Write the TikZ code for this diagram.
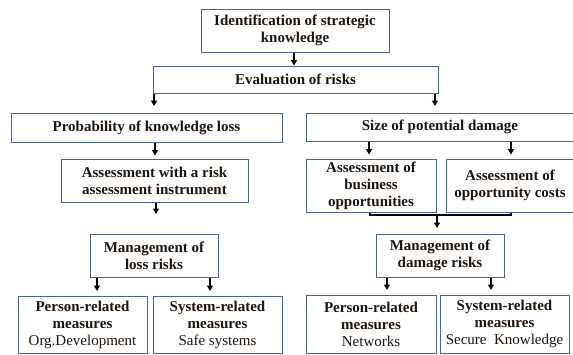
\documentclass[tikz,border=0pt]{standalone}
\usepackage{fontspec}
\setmainfont{Liberation Serif}
\usetikzlibrary{arrows.meta}
\definecolor{boxblue}{RGB}{76,100,146}
\definecolor{txt}{RGB}{30,20,12}
\begin{document}
\begin{tikzpicture}[x=1pt,y=-1pt,
  box/.style={draw=boxblue, line width=1pt, fill=white, inner sep=0pt, align=center,
    text=txt, font=\fontsize{15}{17}\selectfont\bfseries},
  arr/.style={draw=black, line width=1.3pt, -{Triangle[width=6pt,length=5.5pt]}},
  brk/.style={draw=black, line width=1.6pt}]
\useasboundingbox (0,0) rectangle (573,354);
\fill[white] (0,0) rectangle (573,354);
% level 1
\node[box, minimum width=188pt, minimum height=43pt] (id) at (295,30.5) {Identification of strategic\\knowledge};
\node[box, minimum width=285pt, minimum height=27pt] (eval) at (295.5,79.5) {Evaluation of risks};
% level 2
\node[box, minimum width=271pt, minimum height=29pt] (prob) at (146.5,127.5) {Probability of knowledge loss};
\node[box, minimum width=268pt, minimum height=28pt] (size) at (440,127) {Size of potential damage};
% level 3
\node[box, minimum width=187pt, minimum height=43pt] (assess) at (154.5,180.5) {Assessment with a risk\\assessment instrument};
\node[box, minimum width=130pt, minimum height=53pt] (bus) at (371,185.5) {Assessment of\\business\\opportunities};
\node[box, minimum width=127pt, minimum height=53pt] (opp) at (510,185.5) {Assessment of\\opportunity costs};
% level 4
\node[box, minimum width=128pt, minimum height=43pt] (mloss) at (154,255.5) {Management of\\loss risks};
\node[box, minimum width=128pt, minimum height=43pt] (mdam) at (440,255.5) {Management of\\damage risks};
% level 5
\node[box, minimum width=129pt, minimum height=57pt] (p1) at (82.5,324.5) {Person-related\\measures\\\mdseries Org.Development};
\node[box, minimum width=129pt, minimum height=57pt] (s1) at (217.5,324.5) {System-related\\measures\\\mdseries Safe systems};
\node[box, minimum width=130pt, minimum height=58pt] (p2) at (371,324) {Person-related\\measures\\\mdseries Networks};
\node[box, minimum width=129pt, minimum height=58pt] (s2) at (504.5,324) {System-related\\measures\\\mdseries Secure\ \ Knowledge};
% free ends of connectors
\coordinate (e1) at (154,106);
\coordinate (e2) at (435,106);
\coordinate (pa) at (155,155.5);
\coordinate (sa) at (369,154.5);
\coordinate (sb) at (511,154.5);
\coordinate (am) at (156,214);
\coordinate (b1) at (370,215);
\coordinate (b2) at (511,215);
\coordinate (bm) at (437,215);
\coordinate (bmend) at (437,228);
\coordinate (l1) at (97,291);
\coordinate (l2) at (210,291);
\coordinate (d1) at (387,290);
\coordinate (d2) at (491,290);
% connectors
\draw[arr] (id.south -| 294,0) -- (eval.north -| 294,0);
\draw[arr] (eval.south -| e1) -- (e1);
\draw[arr] (eval.south -| e2) -- (e2);
\draw[arr] (prob.south -| pa) -- (pa);
\draw[arr] (size.south -| sa) -- (sa);
\draw[arr] (size.south -| sb) -- (sb);
\draw[arr] (assess.south -| am) -- (am);
\draw[brk] (bus.south -| b1) -- (b1) -- (b2) -- (opp.south -| b2);
\draw[arr] (bm) -- (bmend);
\draw[arr] (mloss.south -| l1) -- (l1);
\draw[arr] (mloss.south -| l2) -- (l2);
\draw[arr] (mdam.south -| d1) -- (d1);
\draw[arr] (mdam.south -| d2) -- (d2);
\end{tikzpicture}
\end{document}
